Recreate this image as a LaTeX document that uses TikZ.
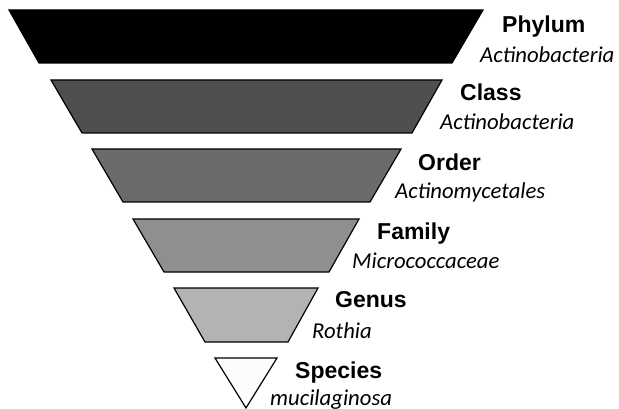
\documentclass[tikz,border=0pt]{standalone}
\usepackage{fontspec}
\setmainfont{Liberation Sans}
\newfontfamily\itf{Carlito}
\begin{document}
\begin{tikzpicture}[x=1pt,y=-1pt]
\useasboundingbox (0,0) rectangle (619,409);
\tikzset{
  lvl/.style={draw=black, line width=1.2pt, line join=miter},
  rank/.style={font=\bfseries\fontsize{23}{27}\selectfont, anchor=base west, inner sep=0pt},
  taxon/.style={font=\itf\itshape\fontsize{22.7}{27}\selectfont, anchor=base west, inner sep=0pt}
}
\definecolor{cPhylum}{gray}{0.0}
\definecolor{cClass}{HTML}{4F4F4F}
\definecolor{cOrder}{HTML}{6B6B6B}
\definecolor{cFamily}{HTML}{8F8F8F}
\definecolor{cGenus}{HTML}{B3B3B3}
\definecolor{cSpecies}{HTML}{FCFCFC}
% levels
\draw[lvl, fill=cPhylum] (9,10) -- (483,10) -- (452,63) -- (39,63) -- cycle;
\draw[lvl, fill=cClass] (51,80) -- (442,80) -- (412,133) -- (82,133) -- cycle;
\draw[lvl, fill=cOrder] (92,149) -- (401,149) -- (370,202) -- (123,202) -- cycle;
\draw[lvl, fill=cFamily] (133,219) -- (359,219) -- (329,272) -- (164,272) -- cycle;
\draw[lvl, fill=cGenus] (174,288) -- (318,288) -- (288,342) -- (205,342) -- cycle;
\draw[lvl, fill=cSpecies] (215,358) -- (277,358) -- (246,408) -- cycle;
% labels
\node[rank] (phylum) at (502,33) {Phylum};
\node[taxon] (phylumT) at (480,63) {Actinobacteria};
\node[rank] (class) at (460,101) {Class};
\node[taxon] (classT) at (440,130) {Actinobacteria};
\node[rank] (order) at (418,171) {Order};
\node[taxon] (orderT) at (395,199) {Actinomycetales};
\node[rank] (family) at (377,240) {Family};
\node[taxon] (familyT) at (352,269) {Micrococcaceae};
\node[rank] (genus) at (335,307) {Genus};
\node[taxon] (genusT) at (312,338) {Rothia};
\node[rank] (species) at (295,378) {Species};
\node[taxon] (speciesT) at (270,405) {mucilaginosa};
\end{tikzpicture}
\end{document}
